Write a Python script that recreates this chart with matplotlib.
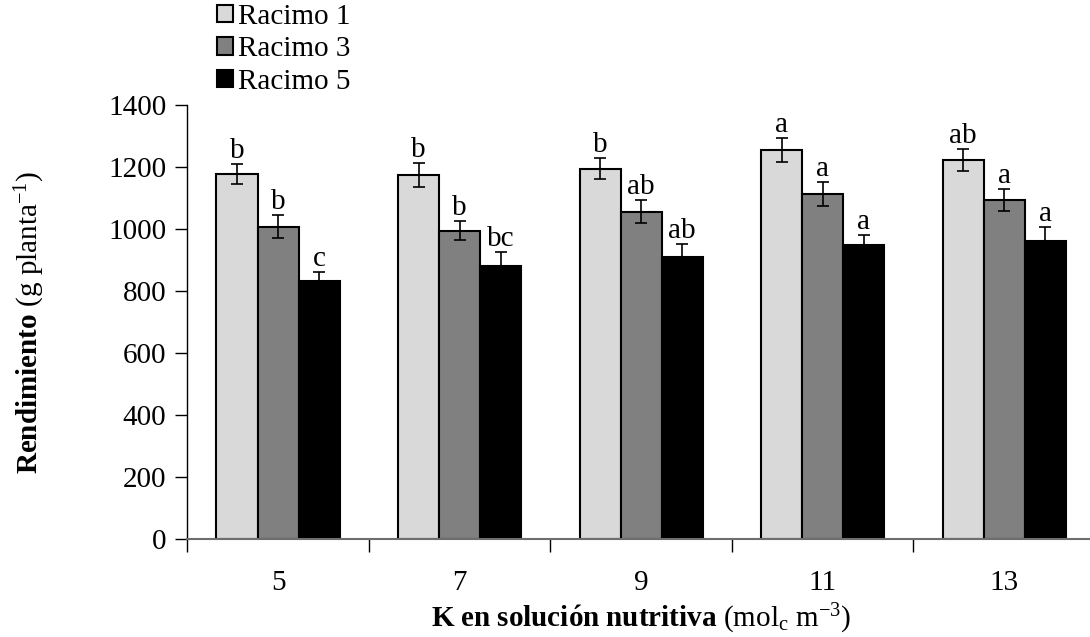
import numpy as np
import matplotlib
matplotlib.use("Agg")
import matplotlib.pyplot as plt

plt.rcParams['font.family'] = ['Liberation Serif', 'DejaVu Serif']
plt.rcParams['mathtext.fontset'] = 'custom'
plt.rcParams['mathtext.rm'] = 'Liberation Serif'
plt.rcParams['mathtext.bf'] = 'Liberation Serif:bold'
plt.rcParams['mathtext.it'] = 'Liberation Serif:italic'

# ── Data ──────────────────────────────────────────────────────────────────────
k_levels = ['5', '7', '9', '11', '13']
series   = ['Racimo 1', 'Racimo 3', 'Racimo 5']
racimo1  = [1177, 1173, 1194, 1256, 1222]
racimo3  = [1008, 995, 1056, 1112, 1093]
racimo5  = [833, 881, 911, 949, 963]
err1     = [33, 39, 34, 39, 35]
err3     = [38, 31, 37, 39, 36]
err5     = [29, 44, 42, 31, 45]
letras1  = ['b', 'b', 'b', 'a', 'ab']
letras3  = ['b', 'b', 'ab', 'a', 'a']
letras5  = ['c', 'bc', 'ab', 'a', 'a']

values  = [racimo1, racimo3, racimo5]
errors  = [err1, err3, err5]
letters = [letras1, letras3, letras5]
colors  = ['#d9d9d9', '#808080', '#000000']

# ── Figure ────────────────────────────────────────────────────────────────────
fig = plt.figure(figsize=(10.9, 6.37), dpi=100)
ax = fig.add_axes([0.1718, 0.1534, 0.8328, 0.6818])

x = np.arange(len(k_levels))
w = 0.226
fs = 21

for i in range(3):
    pos = x + (i - 1) * w
    ax.bar(pos, values[i], w, color=colors[i], edgecolor='black', linewidth=1.5,
           label=series[i], zorder=2)
    ax.errorbar(pos, values[i], yerr=errors[i], fmt='none', ecolor='black',
                elinewidth=1.2, capsize=4, capthick=1.2, zorder=3)
    for p, v, e, t in zip(pos, values[i], errors[i], letters[i]):
        ax.annotate(t, (p, v + e), xytext=(0, 0), textcoords='offset points',
                    ha='center', va='bottom', fontsize=fs)

ax.set_xlim(-0.5, len(k_levels) - 0.5)
ax.set_ylim(0, 1400)
ax.set_yticks(np.arange(0, 1401, 200))
ax.set_xticks(x)
ax.set_xticklabels(k_levels)
ax.set_xticks(np.arange(-0.5, len(k_levels), 1), minor=True)
ax.tick_params(axis='x', which='major', length=0, labelsize=fs, pad=22)
ax.tick_params(axis='x', which='minor', length=9, width=1, direction='out')
ax.tick_params(axis='y', length=9, width=1, direction='out', labelsize=fs, pad=6)

for s in ['top', 'right']:
    ax.spines[s].set_visible(False)
ax.spines['left'].set_linewidth(1)
ax.spines['bottom'].set_color('#6e6e6e')
ax.spines['bottom'].set_linewidth(1.5)

ax.set_ylabel(r'$\mathbf{Rendimiento}$ (g planta$^{\mathrm{-1}}$)', fontsize=fs, labelpad=44)
ax.set_xlabel(r'$\mathbf{K\ en\ soluci\acute{o}n\ nutritiva}$ (mol$_{\mathrm{c}}$ m$^{\mathrm{-3}}$)',
              fontsize=fs, labelpad=4)

fig.legend(loc='upper left', bbox_to_anchor=(0.188, 1.012), frameon=False,
           fontsize=fs, handlelength=0.55, handleheight=0.55, handletextpad=0.2,
           labelspacing=0.22, borderaxespad=0)

fig.savefig('out.png', dpi=100)
